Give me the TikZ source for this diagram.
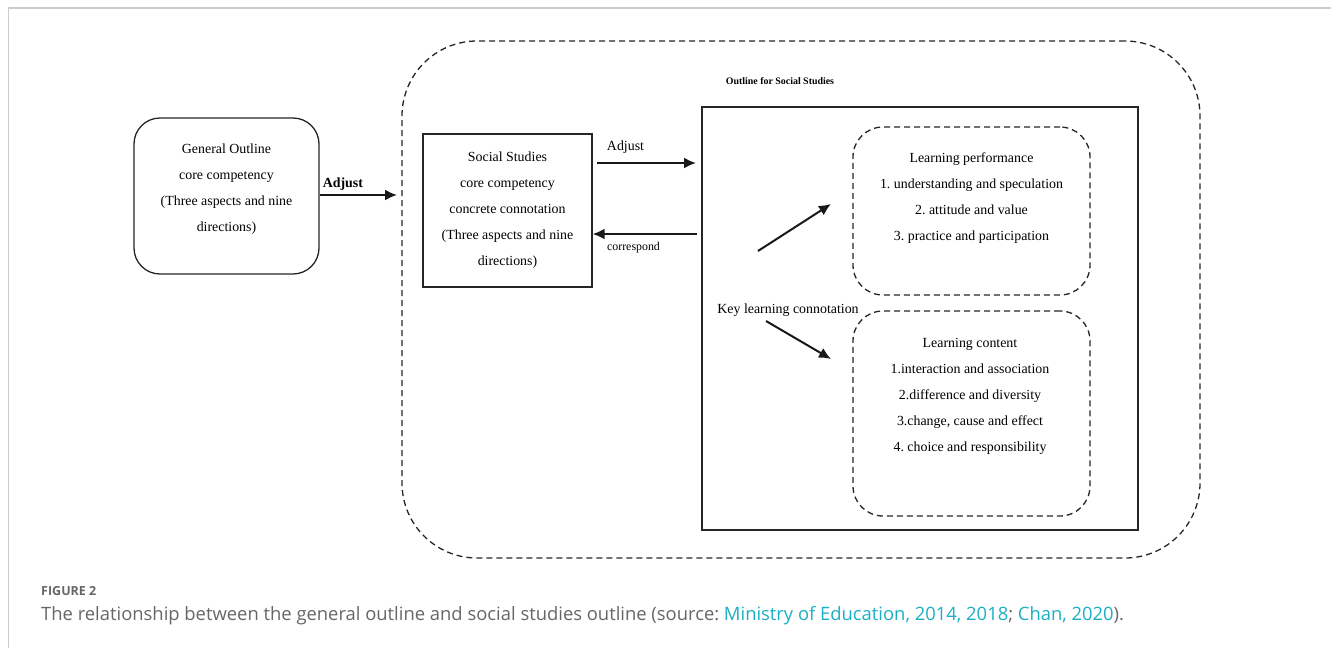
\documentclass[tikz,border=0pt]{standalone}
\usepackage{fontspec}
\setmainfont{Liberation Serif}
\newfontfamily\capfont{Open Sans}
\usetikzlibrary{arrows.meta}
\definecolor{capgray}{HTML}{666666}
\definecolor{linkcyan}{HTML}{1AAFC4}
\definecolor{framegray}{HTML}{CCCCCC}
\frenchspacing
\tikzset{
  solidbox/.style={draw=black!85, line width=1.3pt, inner sep=0pt},
  dashbox/.style={draw=black!85, line width=1.3pt, dash pattern=on 6pt off 4pt, inner sep=0pt},
  txt/.style={align=center, font=\fontsize{13.9}{26}\selectfont, inner sep=0pt},
  arr/.style={draw=black!90, line width=2pt, -{Latex[length=12pt,width=11pt]}},
}
\begin{document}
\begin{tikzpicture}[x=1pt,y=-1pt]
\useasboundingbox (0,0) rectangle (1331,648);
% page frame
\draw[framegray, line width=1.8pt] (8.5,648) -- (8.5,8) -- (1331,8);
% outer dashed
\node[dashbox, rounded corners=75pt, minimum width=798pt, minimum height=517pt] (outer) at (801,299.5) {};
% general outline
\node[solidbox, rounded corners=26pt, minimum width=185pt, minimum height=156pt] (go) at (226.5,196) {};
\node[txt] (gotxt) at (226.5,189) {General Outline\\core competency\\(Three aspects and nine\\directions)};
% social studies box
\node[solidbox, minimum width=169pt, minimum height=153pt] (ss) at (507.5,210.5) {};
\node[txt] (sstxt) at (507.5,210) {Social Studies\\core competency\\concrete connotation\\(Three aspects and nine\\directions)};
% inner rect
\node[solidbox, minimum width=436pt, minimum height=423pt] (inner) at (920,318.5) {};
\node[font=\bfseries\fontsize{9.9}{11}\selectfont, inner sep=0pt] (title) at (780,81) {Outline for Social Studies};
% learning performance
\node[dashbox, rounded corners=30pt, minimum width=237pt, minimum height=168pt] (lp) at (971.5,211) {};
\node[txt] (lptxt) at (971.5,198) {Learning performance\\1. understanding and speculation\\2. attitude and value\\3. practice and participation};
% learning content
\node[dashbox, rounded corners=30pt, minimum width=237pt, minimum height=205pt] (lc) at (971.5,413.5) {};
\node[txt] (lctxt) at (970,396.5) {Learning content\\1.interaction and association\\2.difference and diversity\\3.change, cause and effect\\4. choice and responsibility};
% key learning
\node[txt] (key) at (788,310) {Key learning connotation};
% arrows
\coordinate (a1e) at (397,195);
\draw[arr] (go.east |- a1e) -- (a1e) node[pos=0.3, above=4pt, font=\bfseries\fontsize{13.9}{15}\selectfont, inner sep=0pt] (adj1) {Adjust};
\coordinate (a2s) at (597,163);
\coordinate (a2e) at (696,163);
\draw[arr] (a2s) -- (a2e);
\node[font=\fontsize{13.9}{15}\selectfont, inner sep=0pt] (adj2) at (625.5,147) {Adjust};
\coordinate (a3s) at (697,234);
\draw[arr] (a3s) -- (ss.east |- a3s);
\node[font=\fontsize{11.9}{13}\selectfont, inner sep=0pt] (corr) at (633.5,248) {correspond};
\coordinate (u1) at (758,251);
\coordinate (u2) at (831,204);
\draw[arr] (u1) -- (u2);
\coordinate (d1) at (766,321);
\coordinate (d2) at (831,359);
\draw[arr] (d1) -- (d2);
% caption
\node[anchor=base west, inner sep=0pt, text=capgray, font=\capfont\bfseries\fontsize{12.5}{14}\selectfont] (fig) at (41,595) {FIGURE 2};
\node[anchor=base west, inner sep=0pt, text=capgray, font=\capfont\fontsize{18.4}{20}\selectfont] (cap) at (41,620) {The relationship between the general outline and social studies outline (source:\ \textcolor{linkcyan}{Ministry of Education, 2014, 2018}; \textcolor{linkcyan}{Chan, 2020}).};
\end{tikzpicture}
\end{document}
